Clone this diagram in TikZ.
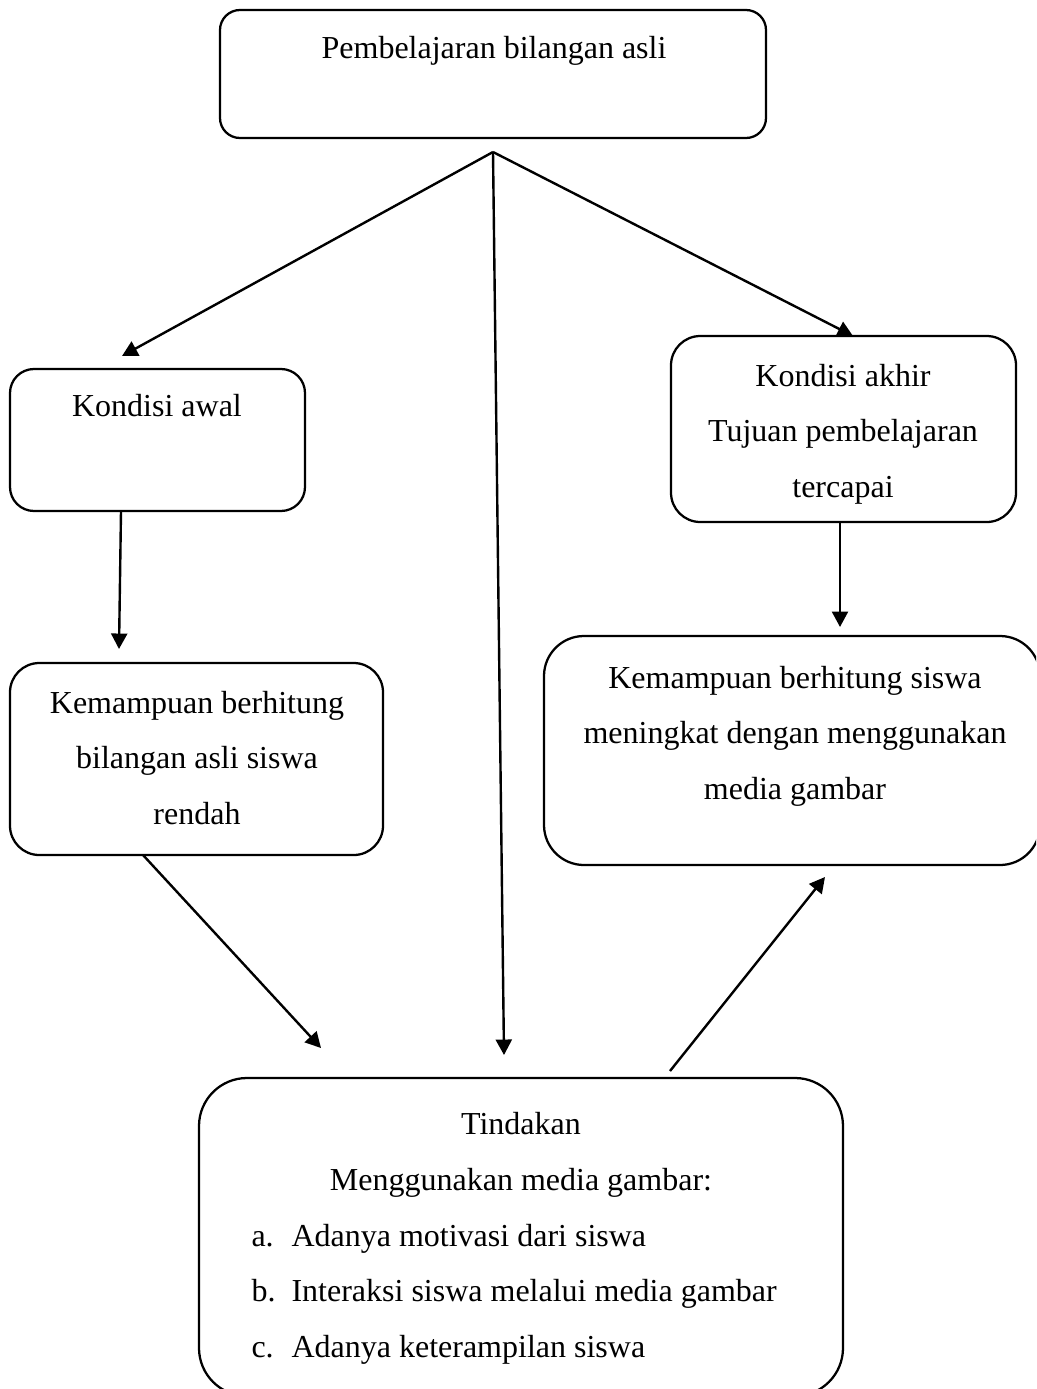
\documentclass[tikz,border=0pt]{standalone}
\usepackage{fontspec}
\setmainfont{Liberation Serif}
\usetikzlibrary{arrows.meta,fit}
\begin{document}
\begin{tikzpicture}[x=0.375pt,y=-0.375pt,
  box/.style={draw, line width=0.85pt, inner sep=0pt, rounded corners=#1},
  box/.default=9pt,
  txt/.style={font=\fontsize{12pt}{20.8pt}\selectfont, align=center, anchor=base, inner sep=0pt},
  arr/.style={line width=0.9pt, -{Triangle[length=5.8pt,width=6pt]}}]
\useasboundingbox (0,0) rectangle (1036,1389);
\clip (0,0) rectangle (1036,1389);

% boxes
\node[box=7.5pt, fit={(220,10) (766,138)}] (top) {};
\node[box=9pt, fit={(10,369) (305,511)}] (awal) {};
\node[box=11pt, fit={(671,336) (1016,522)}] (akhir) {};
\node[box=11pt, fit={(10,663) (383,855)}] (rendah) {};
\node[box=15pt, fit={(544,636) (1040,865)}] (naik) {};
\node[box=18pt, fit={(199,1078) (843,1396)}] (tindakan) {};

% texts (base anchor = baseline of the last line)
\node[txt] (ttop) at (494,58) {Pembelajaran bilangan asli};
\node[txt] (tawal) at (157,416) {Kondisi awal};
\node[txt] (takhir) at (843,497) {Kondisi akhir\\Tujuan pembelajaran\\tercapai};
\node[txt] (trendah) at (197,824) {Kemampuan berhitung\\bilangan asli siswa\\rendah};
\node[txt] (tnaik) at (795,799) {Kemampuan berhitung siswa\\meningkat dengan menggunakan\\media gambar};
\node[txt] (ttind) at (521,1190) {Tindakan\\Menggunakan media gambar:};
\node[txt, align=left, anchor=base west] (tlist) at (251,1357)
  {\makebox[15pt][l]{a.}Adanya motivasi dari siswa\\
   \makebox[15pt][l]{b.}Interaksi siswa melalui media gambar\\
   \makebox[15pt][l]{c.}Adanya keterampilan siswa};

% connector end points
\coordinate (hub) at (493,152);
\coordinate (inAwal) at (122,356);
\coordinate (inTind) at (504,1055);
\coordinate (inAkhir) at (853,336);
\coordinate (outAwal) at (121,511);
\coordinate (inRendah) at (119,649);
\coordinate (outAkhir) at (840,522);
\coordinate (inNaik) at (840,627);
\coordinate (outRendah) at (143,855);
\coordinate (inTind2) at (321,1048);
\coordinate (outTind) at (670,1071);
\coordinate (inNaik2) at (825,877);

% connectors
\draw[arr] (hub) -- (inAwal);
\draw[arr] (hub) -- (inTind);
\draw[arr] (hub) -- (inAkhir);
\draw[arr] (outAwal) -- (inRendah);
\draw[arr] (outAkhir) -- (inNaik);
\draw[arr] (outRendah) -- (inTind2);
\draw[arr] (outTind) -- (inNaik2);
\end{tikzpicture}
\end{document}
